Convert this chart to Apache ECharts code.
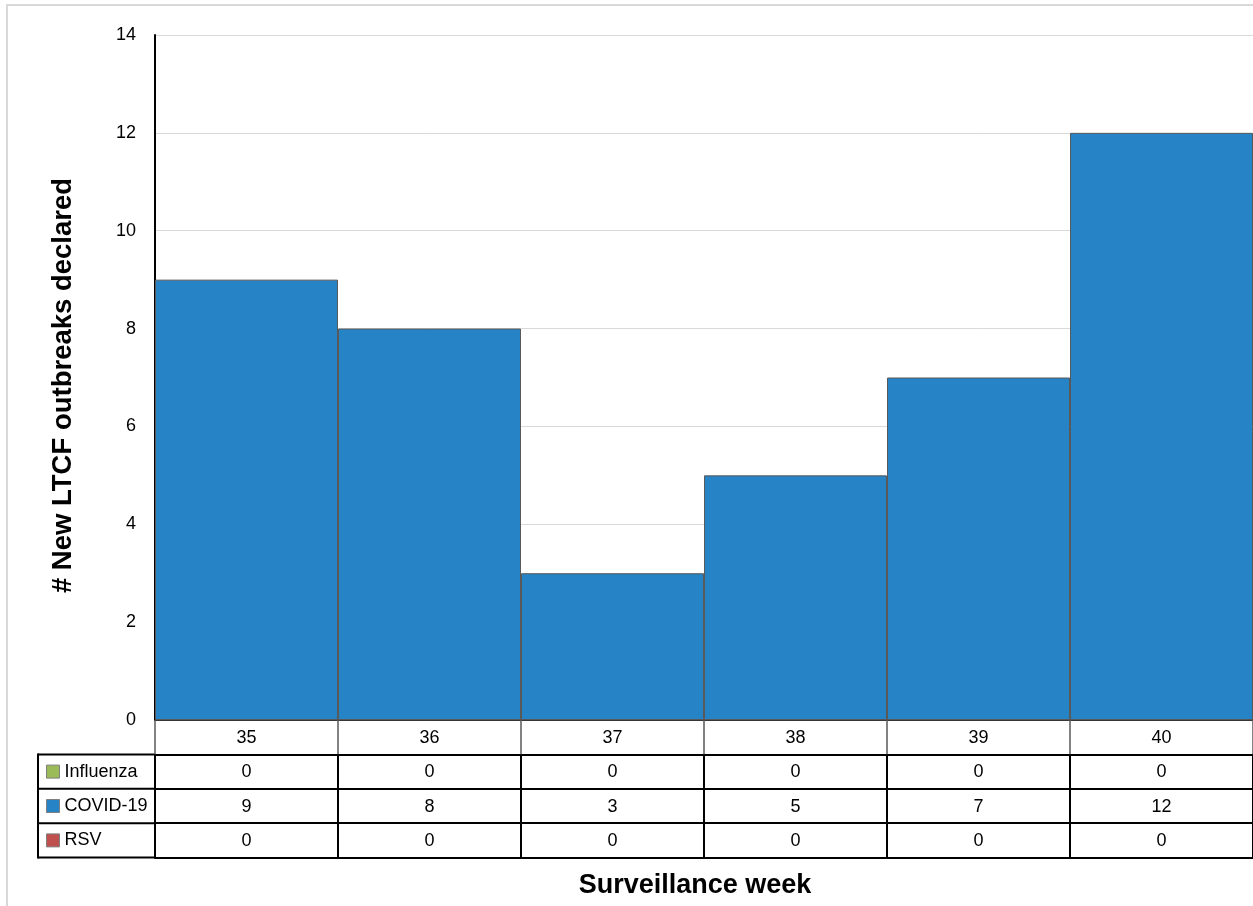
<!DOCTYPE html>
<html>
<head>
<meta charset="utf-8">
<script src="https://cdn.jsdelivr.net/npm/echarts@6/dist/echarts.min.js"></script>
<style>
  html, body { margin: 0; padding: 0; background: #fff; }
  #chart { width: 1253px; height: 906px; }
</style>
</head>
<body>
<div id="chart"></div>
<script>
// data
const weeks = ['35', '36', '37', '38', '39', '40'];
const influenza = [0, 0, 0, 0, 0, 0];
const covid = [9, 8, 3, 5, 7, 12];
const rsv = [0, 0, 0, 0, 0, 0];
const seriesNames = ['Influenza', 'COVID-19', 'RSV'];
const seriesColors = ['#9BBB59', '#2683C6', '#C0504D'];
const tableRows = [influenza, covid, rsv];

const FONT = '"Liberation Sans", Arial, sans-serif';
const gridLeft = 155, gridTop = 35, gridBottomY = 720;
const rowH = 34.4;
const legLeft = 38;

const chart = echarts.init(document.getElementById('chart'));

// table axes under the plot: one category axis per row
let xAxes = [{
  type: 'category',
  data: weeks,
  position: 'bottom',
  axisLine: { show: true, lineStyle: { color: '#000', width: 1.5 } },
  axisTick: { show: true, interval: 0, length: rowH, lineStyle: { color: '#595959', width: 1.5 } },
  axisLabel: { interval: 0, margin: 9, fontSize: 18, color: '#000', fontFamily: FONT },
  splitLine: { show: false }
}];
tableRows.forEach((row, r) => {
  xAxes.push({
    type: 'category',
    data: weeks,
    position: 'bottom',
    offset: rowH * (r + 1),
    axisLine: { show: true, lineStyle: { color: '#000', width: 2 } },
    axisTick: { show: true, interval: 0, length: rowH, lineStyle: { color: '#000', width: 2 } },
    axisLabel: {
      interval: 0, margin: 9, fontSize: 18, color: '#000', fontFamily: FONT,
      formatter: (v, i) => String(row[i])
    },
    splitLine: { show: false }
  });
});
xAxes.push({
  type: 'category',
  data: weeks,
  position: 'bottom',
  offset: rowH * 4,
  axisLine: { show: true, lineStyle: { color: '#000', width: 2 } },
  axisTick: { show: false },
  axisLabel: { show: false },
  splitLine: { show: false }
});

// legend column on the left of the table
const legendCol = [];
for (let r = 1; r <= 4; r++) {
  legendCol.push({
    type: 'line',
    shape: { x1: legLeft, y1: gridBottomY + rowH * r, x2: gridLeft, y2: gridBottomY + rowH * r },
    style: { stroke: '#000', lineWidth: 2 }
  });
}
legendCol.push({
  type: 'line',
  shape: { x1: legLeft, y1: gridBottomY + rowH - 1, x2: legLeft, y2: gridBottomY + rowH * 4 + 1 },
  style: { stroke: '#000', lineWidth: 2 }
});

const legends = seriesNames.map((name, i) => ({
  data: [name],
  left: 46,
  top: gridBottomY + rowH * (i + 1) + rowH / 2 - 10,
  padding: 0,
  itemGap: 0,
  itemWidth: 13,
  itemHeight: 13,
  icon: 'rect',
  selectedMode: false,
  itemStyle: { borderColor: '#7f7f7f', borderWidth: 1 },
  textStyle: { fontSize: 18, lineHeight: 20, color: '#000', fontFamily: FONT }
}));

chart.setOption({
  animation: false,
  backgroundColor: '#fff',
  grid: { left: gridLeft, top: gridTop, right: -2, bottom: 906 - gridBottomY, containLabel: false },
  legend: legends,
  xAxis: xAxes,
  yAxis: {
    type: 'value',
    min: 0,
    max: 14,
    interval: 2,
    name: '# New LTCF outbreaks declared',
    nameLocation: 'middle',
    nameGap: 78,
    nameRotate: 90,
    nameTextStyle: { fontSize: 27.5, fontWeight: 'bold', color: '#000', fontFamily: FONT, padding: [0, 16, 0, 0] },
    axisLine: { show: true, lineStyle: { color: '#000', width: 2 } },
    axisTick: { show: false },
    axisLabel: { margin: 19, fontSize: 18, color: '#000', fontFamily: FONT },
    splitLine: { show: true, lineStyle: { color: '#d9d9d9', width: 1 } }
  },
  series: [
    {
      name: 'Influenza', type: 'bar', stack: 'all', data: influenza,
      barCategoryGap: '0%',
      itemStyle: { color: seriesColors[0], borderWidth: 0 }
    },
    {
      name: 'COVID-19', type: 'bar', stack: 'all', data: covid,
      barCategoryGap: '0%',
      itemStyle: { color: seriesColors[1], borderColor: '#595959', borderWidth: 1 }
    },
    {
      name: 'RSV', type: 'bar', stack: 'all', data: rsv,
      barCategoryGap: '0%',
      itemStyle: { color: seriesColors[2], borderWidth: 0 }
    }
  ],
  graphic: [
    {
      type: 'rect',
      shape: { x: 7, y: 5, width: 1270, height: 930 },
      style: { fill: 'none', stroke: '#d9d9d9', lineWidth: 2 },
      silent: true
    },
    ...legendCol,
    {
      type: 'text',
      x: 695,
      y: 886,
      style: {
        text: 'Surveillance week', fill: '#000', fontSize: 27, fontWeight: 'bold',
        fontFamily: FONT, align: 'center', verticalAlign: 'middle'
      }
    }
  ]
});
</script>
</body>
</html>
